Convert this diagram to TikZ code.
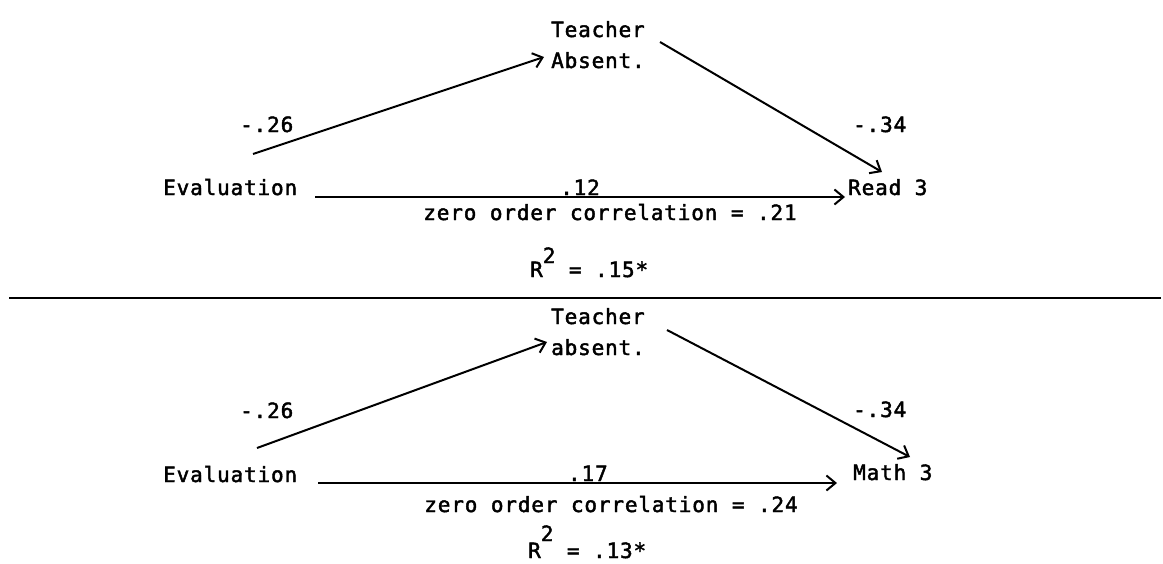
\documentclass[tikz,border=0pt]{standalone}
\usepackage{fontspec}
\usepackage{tikz}
\usetikzlibrary{arrows.meta,calc}
\newfontfamily\typer{DejaVu Sans Mono}[LetterSpace=4, FakeBold=2]

\begin{document}
\begin{tikzpicture}[x=1pt, y=-1pt,
    every node/.style={font=\typer\fontsize{21}{31}\selectfont, inner sep=0pt},
    txt/.style={anchor=base west, align=left},
    arr/.style={line width=2pt, -{Straight Barb[length=9pt,width=15pt,line width=2pt]}}]
  \useasboundingbox (0,0) rectangle (1163,563);

  % upper panel: reading
  \node[txt] (teach1) at (551,68) {Teacher\\Absent.};
  \node[txt] (eval1) at (163,195) {Evaluation};
  \node[txt] (read3) at (848,195) {Read 3};
  \node[txt] (coefA1) at (240,132) {-.26};
  \node[txt] (coefB1) at (853,132) {-.34};
  \node[anchor=base] (zero1) at (610,220) {zero order correlation = .21};
  \node[txt] (rsq1) at (530,277) {R\raisebox{14pt}{2} = .15*};

  \draw[arr] ($(eval1.base west)+(90,-41)$) -- ($(teach1.base west)+(-7,-11)$);
  \draw[arr] ($(teach1.base west)+(109,-26)$) -- ($(read3.base west)+(34,-23)$);
  \draw[arr] ($(eval1.base west)+(152,2)$) -- node[above=1pt] (coefC1) {.12}
    ($(read3.base west)+(-3,2)$);

  % rule between the panels
  \draw[line width=1.8pt] (9,298) -- (1161,298);

  % lower panel: math
  \node[txt] (teach2) at (551,355) {Teacher\\absent.};
  \node[txt] (eval2) at (163,482) {Evaluation};
  \node[txt] (math3) at (853,480) {Math 3};
  \node[txt] (coefA2) at (240,418) {-.26};
  \node[txt] (coefB2) at (853,417) {-.34};
  \node[anchor=base] (zero2) at (611,512) {zero order correlation = .24};
  \node[txt] (rsq2) at (528,558) {R\raisebox{17pt}{2} = .13*};

  \draw[arr] ($(eval2.base west)+(94,-34)$) -- ($(teach2.base west)+(-4,-13)$);
  \draw[arr] ($(teach2.base west)+(116,-25)$) -- ($(math3.base west)+(57,-23)$);
  \draw[arr] ($(eval2.base west)+(155,1)$) -- node[above=1pt, pos=0.52] (coefC2) {.17}
    ($(math3.base west)+(-16,3)$);
\end{tikzpicture}
\end{document}
